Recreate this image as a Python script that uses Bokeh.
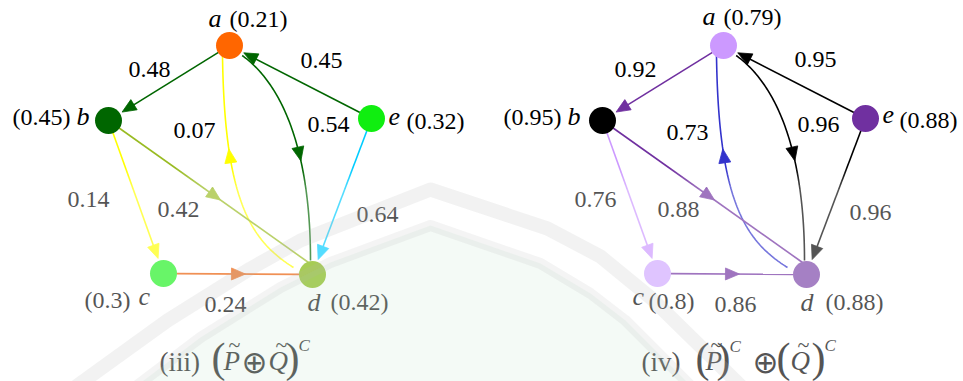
import numpy as np
from bokeh.plotting import figure
from bokeh.models import Range1d
from bokeh.core.properties import value
from bokeh.embed import file_html
from bokeh.resources import INLINE

# ---------------- data ----------------
NODES = ["a", "b", "c", "d", "e"]
VALS_III = [0.21, 0.45, 0.3, 0.42, 0.32]   # vertex memberships, (iii)
VALS_IV = [0.79, 0.95, 0.8, 0.88, 0.88]    # vertex memberships, (iv)

SRC = ["a", "e", "a", "d", "b", "b", "e", "c"]
DST = ["b", "a", "d", "a", "d", "c", "d", "d"]
W_III = [0.48, 0.45, 0.54, 0.07, 0.42, 0.14, 0.64, 0.24]  # edge memberships, (iii)
W_IV = [0.92, 0.95, 0.96, 0.73, 0.88, 0.76, 0.96, 0.86]   # edge memberships, (iv)

# ---------------- layout / style ----------------
W, H = 963, 381
POS = {"a": (229, 45), "b": (108, 120), "c": (163, 273), "d": (312, 274), "e": (371, 118)}
PANEL_DX = [0, 494]
R = 13          # vertex radius
TIP_GAP = 16    # distance from vertex centre to an arrow tip
LW = 1.6

GEOM = [
    dict(kind="line", arrow="end"),                                   # a->b
    dict(kind="line", arrow="end"),                                   # e->a
    dict(kind="curve", p0=(12.7, 10), c1=(53, 39), c2=(-2, -124), p3=(-2, -14), t=0.65),   # a->d
    dict(kind="curve", p0=(-19, -7), c1=(-62, -34), c2=(-5, 155), p3=(-7, 10), t=0.74),   # d->a
    dict(kind="line", arrow=0.56, aim=(-4, -12)),                     # b->d
    dict(kind="line", arrow="end"),                                   # b->c
    dict(kind="line", arrow="end"),                                   # e->d
    dict(kind="line", arrow=0.55),                                    # c->d
]

NODE_COL = [
    {"a": "#ff6600", "b": "#006600", "c": "#1ef01e", "d": "#7db300", "e": "#10ee10"},
    {"a": "#cc99ff", "b": "#000000", "c": "#cfa7ff", "d": "#7a42a7", "e": "#7030a0"},
]
EDGE_COL = [
    ["#006600", "#006600", "#006600", "#ffff00", "#99bb22", "#ffff00", "#00ccff", "#e95a00"],
    ["#7030a0", "#000000", "#000000", "#3333cc", "#7030a0", "#cc99ff", "#000000", "#7030a0"],
]

# edge label anchors (centre x, baseline y) relative to each panel
EDGE_LBL = [
    [(149, 77), (321, 68), (328, 132), (194, 138), (178, 217), (88, 207), (377, 222), (225, 312)],
    [(141, 77), (321, 67), (324, 132), (193, 140), (184, 217), (101, 207), (376, 220), (241, 312)],
]
# vertex label anchors: name (x, baseline), value (x, baseline)
NODE_LBL = [
    {"a": (208, 27, 229, 27), "b": (76, 125, 12, 125), "c": (138, 305, 84, 308),
     "d": (307, 311, 330, 310), "e": (388, 125, 406, 129)},
    {"a": (208, 25, 229, 25), "b": (73, 125, 9, 125), "c": (138, 305, 154, 309),
     "d": (306, 311, 331, 310), "e": (388, 123, 405, 128)},
]

SERIF = "'Liberation Serif', 'Times New Roman', serif"
SYMBOL = "'DejaVu Sans'"
NUM_PX = 24
NAME_PX = 26
BASE_SHIFT = 0.34   # alphabetic baseline correction, fraction of font size


def fmt(v):
    return f"{v:g}"


def bezier(p0, c1, c2, p3, n=80):
    t = np.linspace(0, 1, n)[:, None]
    return ((1 - t) ** 3) * p0 + 3 * t * (1 - t) ** 2 * c1 + 3 * t ** 2 * (1 - t) * c2 + t ** 3 * p3


def bezier_at(p0, c1, c2, p3, t):
    pt = (1 - t) ** 3 * p0 + 3 * t * (1 - t) ** 2 * c1 + 3 * t ** 2 * (1 - t) * c2 + t ** 3 * p3
    d = 3 * (1 - t) ** 2 * (c1 - p0) + 6 * (1 - t) * t * (c2 - c1) + 3 * t ** 2 * (p3 - c2)
    return pt, d


def head(tip, direction, length=14.0, half=6.0):
    d = np.asarray(direction, float)
    d = d / np.linalg.norm(d)
    n = np.array([-d[1], d[0]])
    base = tip - d * length
    xs = [tip[0], base[0] + n[0] * half, base[0] - n[0] * half]
    ys = [tip[1], base[1] + n[1] * half, base[1] - n[1] * half]
    return xs, ys


p = figure(width=W, height=H, x_range=Range1d(0, W), y_range=Range1d(H, 0),
           output_backend="svg", toolbar_location=None,
           x_axis_location=None, y_axis_location=None, min_border=0,
           background_fill_color="white", border_fill_color="white")
p.grid.visible = False
p.outline_line_color = None


def texts(xs, ys, labels, px, style="normal", font=SERIF, align="left"):
    ys = [y - BASE_SHIFT * px for y in ys]
    p.text(xs, ys, text=labels, text_font=value(font), text_font_size=value(f"{px}px"),
           text_font_style=style, text_align=align, text_baseline="alphabetic",
           text_color="black")


panels = [(VALS_III, W_III), (VALS_IV, W_IV)]

for k, (vals, weights) in enumerate(panels):
    dx = PANEL_DX[k]
    pos = {n: np.array([POS[n][0] + dx, POS[n][1]], float) for n in NODES}

    # ---- edges ----
    for i, (s, t) in enumerate(zip(SRC, DST)):
        g = GEOM[i]
        col = EDGE_COL[k][i]
        ps, pt = pos[s], pos[t]
        if g["kind"] == "line":
            target = pt + np.array(g.get("aim", (0, 0)), float)
            u = (target - ps) / np.linalg.norm(target - ps)
            start = ps + u * R
            if g["arrow"] == "end":
                tip = pt - u * TIP_GAP if "aim" not in g else target
                end = tip - u * 8
            else:
                end = target - u * R if "aim" not in g else target
                tip = ps + (target - ps) * g["arrow"]
            p.line([start[0], end[0]], [start[1], end[1]], line_color=col, line_width=LW)
            hx, hy = head(tip, u)
            p.patch(hx, hy, fill_color=col, line_color=col, line_width=0.8)
        else:
            p0 = ps + np.array(g["p0"], float)
            c1 = ps + np.array(g["c1"], float)
            c2 = pt + np.array(g["c2"], float)
            p3 = pt + np.array(g["p3"], float)
            curve = bezier(p0, c1, c2, p3)
            p.line(curve[:, 0], curve[:, 1], line_color=col, line_width=LW)
            tip, d = bezier_at(p0, c1, c2, p3, g["t"])
            hx, hy = head(tip, d)
            p.patch(hx, hy, fill_color=col, line_color=col, line_width=0.8)

    # ---- vertices ----
    p.scatter([pos[n][0] for n in NODES], [pos[n][1] for n in NODES], size=2 * R + 1,
              fill_color=[NODE_COL[k][n] for n in NODES], line_color=None)

    # ---- edge labels ----
    texts([EDGE_LBL[k][i][0] + dx for i in range(len(SRC))],
          [EDGE_LBL[k][i][1] for i in range(len(SRC))],
          [fmt(w) for w in weights], NUM_PX, align="center")

    # ---- vertex labels ----
    nl = NODE_LBL[k]
    texts([nl[n][0] + dx for n in NODES], [nl[n][1] for n in NODES], NODES, NAME_PX, "italic")
    texts([nl[n][2] + dx for n in NODES], [nl[n][3] for n in NODES],
          [f"({fmt(v)})" for v in vals], NUM_PX)

# ---- captions ----
def txt(x, y, s, px, style="normal", font=SERIF, align="left"):
    texts([x], [y], [s], px, style, font, align)

# (iii) (P~ ⊕ Q~)^C
txt(159, 371, "(iii)", 27)
txt(211, 372, "(", 42)
txt(223, 370, "P", 27, "italic")
txt(234, 351, "~", 22, align="center")
txt(254, 372, "⊕", 31, font=SYMBOL, align="center")
txt(268, 370, "Q", 27, "italic")
txt(281, 351, "~", 22, align="center")
txt(285, 372, ")", 42)
txt(298, 351, "C", 17, "italic")

# (iv) (P~)^C ⊕ (Q~)^C
txt(641, 371, "(iv)", 27)
txt(695, 372, "(", 42)
txt(705, 370, "P", 27, "italic")
txt(716, 351, "~", 22, align="center")
txt(716, 372, ")", 42)
txt(729, 352, "C", 17, "italic")
txt(765, 372, "⊕", 31, font=SYMBOL, align="center")
txt(776, 372, "(", 42)
txt(790, 370, "Q", 27, "italic")
txt(803, 351, "~", 22, align="center")
txt(811, 372, ")", 42)
txt(824, 351, "C", 17, "italic")

# ---- light veil over the lower part of the page ----
steps = [(168, 0.05), (172, 0.10), (176, 0.16), (180, 0.22), (184, 0.28)]
for y0, a in steps:
    p.quad(left=0, right=W, top=y0, bottom=y0 + 4, fill_color="white", fill_alpha=a, line_color=None)
p.quad(left=0, right=W, top=188, bottom=H, fill_color="white", fill_alpha=0.33, line_color=None)

# faint emblem behind the captions
outer_x = [70, 167, 250, 300, 430, 547, 600, 650, 745]
outer_y = [390, 320, 268, 240, 189, 228, 256, 297, 390]
inner_x = [130, 200, 280, 330, 430, 540, 590, 625, 695]
inner_y = [390, 337, 287, 262, 225, 263, 293, 320, 390]
p.patch(inner_x, inner_y, fill_color="#a8d8b8", fill_alpha=0.12, line_color=None)
p.line(outer_x, outer_y, line_color="#b8b8b8", line_alpha=0.18, line_width=14, line_join="round")
p.line(inner_x, inner_y, line_color="#b8b8b8", line_alpha=0.15, line_width=11, line_join="round")

open("out.html", "w").write(file_html(p, INLINE))
